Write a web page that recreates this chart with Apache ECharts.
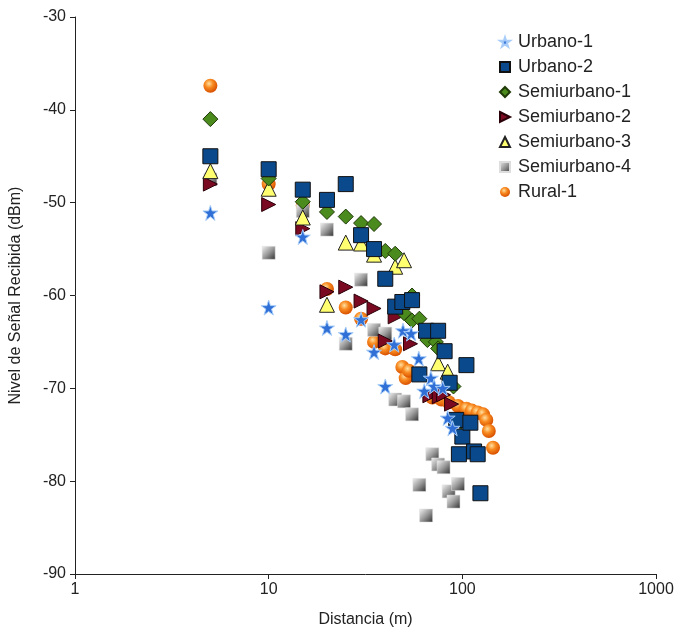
<!DOCTYPE html>
<html>
<head>
<meta charset="utf-8">
<script src="https://cdn.jsdelivr.net/npm/echarts@6/dist/echarts.min.js"></script>
<style>
html,body{margin:0;padding:0;background:#fff;}
#chart{width:678px;height:633px;}
</style>
</head>
<body>
<div id="chart"></div>
<script>
// Data: [distance (m), level (dBm)]
const seriesNames = ['Urbano-1','Urbano-2','Semiurbano-1','Semiurbano-2','Semiurbano-3','Semiurbano-4','Rural-1'];
const urbano1 = [[5,-51.1],[10,-61.3],[15,-53.7],[20,-63.5],[25,-64.2],[30,-62.6],[35,-66.1],[40,-69.8],[44.5,-65.3],[49.4,-63.8],[54.4,-64.1],[59.6,-66.8],[63.6,-70.3],[68.8,-68.9],[71.5,-69.8],[79.2,-70.0],[84,-73.2],[89,-74.3]];
const urbano2 = [[5,-45.0],[10,-46.4],[15,-48.6],[20,-49.7],[25,-48.0],[30,-53.5],[35,-55.0],[40,-58.2],[45,-61.2],[49,-60.7],[55,-60.5],[60,-68.5],[65,-63.8],[75,-63.8],[81,-66.0],[86,-69.4],[93,-73.4],[96,-77.1],[100,-75.2],[105,-67.5],[110,-73.7],[115,-76.8],[120,-77.1],[124,-81.3]];
const semiurbano1 = [[5,-41.0],[10,-47.4],[15,-49.9],[20,-51.0],[25,-51.5],[30,-52.2],[35,-52.3],[40,-55.2],[45,-55.5],[50,-61.9],[55,-60.0],[55,-62.7],[60,-62.5],[66,-64.8],[73,-65.0],[75,-65.7],[90,-69.8],[98,-73.6]];
const semiurbano2 = [[5,-48.0],[10,-50.2],[15,-52.8],[20,-59.6],[25,-59.1],[30,-60.6],[35,-61.4],[40,-64.9],[45,-62.3],[54,-65.2],[68,-70.8],[76,-70.9],[80,-70.7],[88,-71.7]];
const semiurbano3 = [[5,-46.6],[10,-48.5],[15,-51.6],[20,-61.0],[25,-54.3],[30,-54.4],[35,-55.6],[45,-56.9],[50,-56.2],[75,-67.3],[84,-68.2]];
const semiurbano4 = [[5,-47.5],[10,-55.4],[15,-50.9],[20,-52.9],[25,-65.2],[30,-58.3],[35,-63.7],[40,-64.1],[45,-71.2],[50,-71.4],[55,-72.8],[60,-80.4],[65,-83.7],[70,-77.1],[75,-78.2],[80,-78.5],[85,-81.1],[90,-82.2],[95,-80.3]];
const rural1 = [[5,-37.4],[10,-48.0],[15,-50.3],[20,-59.3],[25,-61.3],[30,-62.5],[35,-65.0],[40,-65.7],[45,-65.8],[49,-67.7],[51,-68.9],[53,-68.1],[70,-71.0],[78,-71.2],[85,-71.5],[95,-71.9],[105,-72.2],[112,-72.4],[120,-72.6],[128,-72.8],[133,-73.4],[137,-74.6],[144,-76.4]];
const yTicks = [-90,-80,-70,-60,-50,-40,-30];
const xTicks = [1,10,100,1000];

const starPath = 'path://M50,0 L61.8,35.4 L100,35.4 L69.1,57.3 L80.9,95.1 L50,72.4 L19.1,95.1 L30.9,57.3 L0,35.4 L38.2,35.4 Z';
const rightTri = 'path://M0,0 L100,50 L0,100 Z';

const sphere = {type:'radial',x:0.4,y:0.35,r:0.65,colorStops:[{offset:0,color:'#ffe0a0'},{offset:0.45,color:'#f88a20'},{offset:1,color:'#d85000'}]};
const graySq = {type:'linear',x:0,y:0,x2:1,y2:1,colorStops:[{offset:0,color:'#f4f4f4'},{offset:0.5,color:'#9a9a9a'},{offset:1,color:'#303030'}]};

const styles = {
  'Urbano-1': {symbol: starPath, size: 15, item:{color:'#2f6fd6',borderColor:'#a8cdf8',borderWidth:1,opacity:1}, z:7},
  'Urbano-2': {symbol: 'rect', size: 15, item:{color:'#0a4a8c',borderColor:'#111',borderWidth:1,opacity:1}, z:6},
  'Semiurbano-1': {symbol: 'diamond', size: 15, item:{color:'#4b8a1c',borderColor:'#1f3a08',borderWidth:1,opacity:1}, z:5},
  'Semiurbano-2': {symbol: rightTri, size: 14, item:{color:'#7a0a22',borderColor:'#2a0008',borderWidth:1,opacity:1}, z:3},
  'Semiurbano-3': {symbol: 'triangle', size: 15, item:{color:'#ffff70',borderColor:'#222',borderWidth:1,opacity:1}, z:4},
  'Semiurbano-4': {symbol: 'rect', size: 13, item:{color:graySq,borderColor:'#ddd',borderWidth:0.5,opacity:1}, z:2},
  'Rural-1': {symbol: 'circle', size: 14, item:{color:sphere,opacity:1}, z:1}
};
const dataMap = {'Urbano-1':urbano1,'Urbano-2':urbano2,'Semiurbano-1':semiurbano1,'Semiurbano-2':semiurbano2,'Semiurbano-3':semiurbano3,'Semiurbano-4':semiurbano4,'Rural-1':rural1};
const drawOrder = ['Rural-1','Semiurbano-4','Semiurbano-2','Semiurbano-3','Semiurbano-1','Urbano-2','Urbano-1'];

const chart = echarts.init(document.getElementById('chart'));
chart.setOption({
  animation:false,
  backgroundColor:'#fff',
  grid:{left:72,right:22,top:17,bottom:56,containLabel:false},
  legend:{
    data:seriesNames.map(n=>({name:n,icon:styles[n].symbol,itemStyle:{opacity:1}})),
    orient:'vertical', left:494, top:28, itemGap:7, itemWidth:10, itemHeight:10,
    textStyle:{fontFamily:'Liberation Sans, Arial, sans-serif',fontSize:18,color:'#222',padding:[0,0,0,3]},
    selectedMode:false
  },
  xAxis:{
    type:'log', logBase:10, min:1, max:1000,
    name:'Distancia (m)', nameLocation:'middle', nameGap:38,
    nameTextStyle:{fontFamily:'Liberation Sans, Arial, sans-serif',fontSize:16,color:'#222'},
    axisLine:{lineStyle:{color:'#222',width:1}},
    axisTick:{show:true,inside:false,length:5,lineStyle:{color:'#222'}},
    minorTick:{show:false},
    splitLine:{show:false},
    axisLabel:{fontFamily:'Liberation Sans, Arial, sans-serif',fontSize:16,color:'#222',margin:8,
      formatter:v=>xTicks.includes(Math.round(v))?String(Math.round(v)):''}
  },
  yAxis:{
    type:'value', min:yTicks[0], max:yTicks[yTicks.length-1], interval:10,
    name:'Nivel de Señal Recibida (dBm)', nameLocation:'middle', nameGap:51, nameRotate:90,
    nameTextStyle:{fontFamily:'Liberation Sans, Arial, sans-serif',fontSize:16,color:'#222'},
    axisLine:{show:true,lineStyle:{color:'#222',width:1}},
    axisTick:{show:true,inside:false,length:5,lineStyle:{color:'#222'}},
    splitLine:{show:false},
    axisLabel:{fontFamily:'Liberation Sans, Arial, sans-serif',fontSize:16,color:'#222',margin:9}
  },
  series: drawOrder.map(n=>({
    name:n, type:'scatter', data:dataMap[n],
    symbol:styles[n].symbol, symbolSize:styles[n].size,
    itemStyle:styles[n].item, z:styles[n].z,
    emphasis:{disabled:true}
  }))
});
</script>
</body>
</html>
